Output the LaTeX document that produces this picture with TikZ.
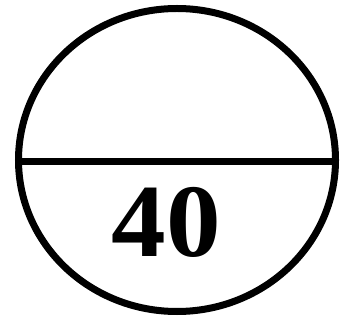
\documentclass[tikz,border=0pt]{standalone}
\usepackage{fontspec}
\setmainfont{Liberation Serif}
\usetikzlibrary{positioning}

\begin{document}
\begin{tikzpicture}[
  x=1pt, y=-1pt,
  rim/.style={line width=7pt, black},
  numtext/.style={font=\fontsize{104}{104}\bfseries\selectfont, inner sep=0pt, xscale=1.05},
]
\useasboundingbox (0,0) rectangle (350,320);

% outer ring and its dividing line
\coordinate (c) at (177,160);
\draw[rim] (c) ellipse [x radius=158.5, y radius=151.5];
\coordinate (left) at (18,162);
\coordinate (right) at (336,162);
\draw[rim] (left) -- (right);

% number in the lower half
\node[numtext] (num) at (166,222) {40};
\end{tikzpicture}
\end{document}
